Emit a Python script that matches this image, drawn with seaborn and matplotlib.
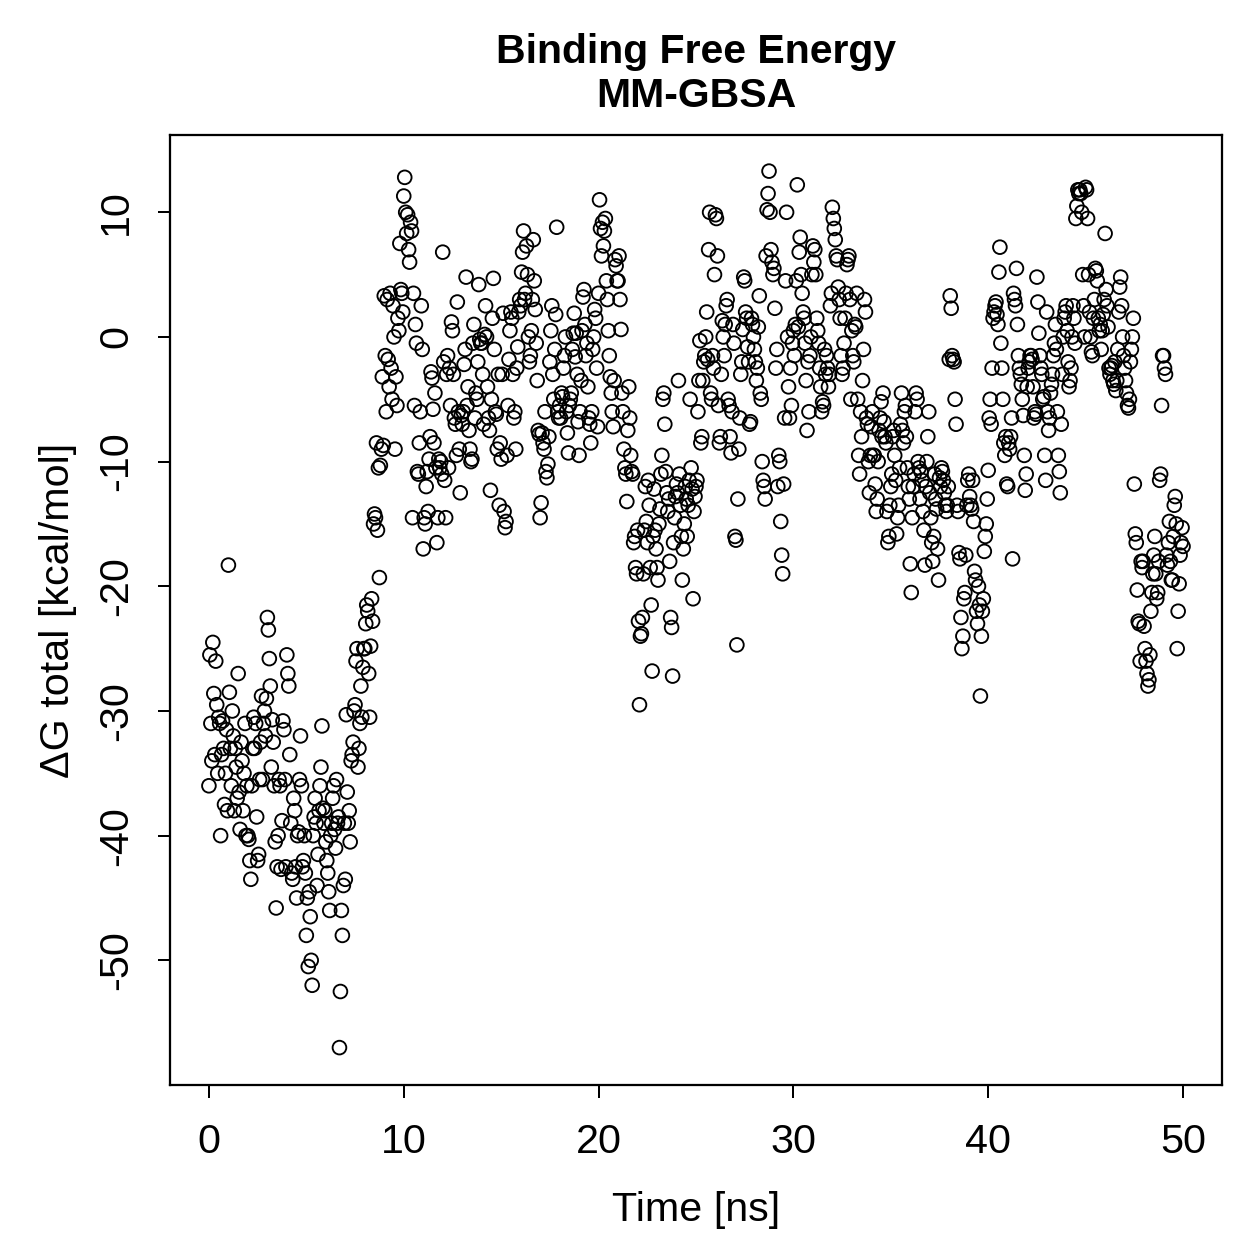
import numpy as np
import pandas as pd
import seaborn as sns
import matplotlib.pyplot as plt

# dG total (kcal/mol), one frame every 0.05 ns
dg_00_10 = [
    -36, -25.5, -31, -34, -24.5, -28.6, -33.5, -26, -29.5, -35, -30.5, -31, -40, -33.5, -30.8, -33, -37.5, -35, -31.5, -38,
    -18.3, -28.5, -33, -36, -30, -32, -38, -33, -34.5, -37, -27, -36.5, -39.5, -32.5, -34, -38, -35, -31, -40, -36,
    -40, -40.3, -42, -43.5, -36, -33, -30.5, -33, -31, -38.5, -42, -41.5, -35.5, -32.5, -28.8, -35.5, -31, -30, -32, -29,
    -22.5, -23.5, -25.8, -28, -34.5, -30.7, -32.5, -36, -40.5, -45.8, -42.5, -40, -35.5, -36, -42.7, -38.8, -30.8, -31.5, -35.5, -42.5,
    -25.5, -27, -28, -33.5, -39, -43, -43.5, -37, -38, -42.5, -45, -40, -39.7, -35.5, -32, -36, -42.5, -42, -40, -43,
    -48, -45, -50.5, -44.5, -46.5, -50, -52, -40, -38.5, -37, -39, -44, -41.5, -38, -36, -34.5, -31.2, -37.8, -39, -38,
    -40.5, -42, -43, -44.5, -46, -40, -39, -37, -36, -39.5, -41, -35.5, -39, -38.5, -57, -52.5, -46, -48, -44, -39,
    -43.5, -30.3, -36.5, -39, -38, -40.5, -34, -33.5, -32.5, -30, -29.5, -26, -25, -34.5, -33, -31, -28, -30.5, -26.5, -25,
    -25, -23, -21.5, -22, -27, -30.5, -24.8, -21, -22.8, -15, -14.2, -14.5, -8.5, -15.5, -10.5, -19.3, -10.3, -9, -3.2, -8.7,
    3.3, -1.5, -6, 3, -1.8, -4, 3.5, -2.5, -5, 2.5, 0, -9, -3.2, -5.5, 1.5, 0.5, 7.5, 3.8, 3.5, 2,
]
dg_10_20 = [
    11.3, 12.8, 10, 8.3, 9.8, 7, 6, 9.2, 8.5, -14.5, 3.5, -5.5, 1, -0.5, -10.8, -11, -8.5, -6, 2.5, -1,
    -17, -14.5, -15, -12, -10.8, -14, -9.8, -8, -2.8, -3.3, -5.8, -8.5, -4.5, -10.5, -16.5, -14.5, -9.8, -10.5, -10, -11,
    6.8, -2, -11.5, -14.5, -3, -1.5, -10.5, -2.5, -5.5, 1.2, 0.5, -3, -6.5, -7, -9.5, 2.8, -6, -9, -12.5, -6.3,
    -7, -6, -2.2, -1, 4.8, -5.5, -4, -7.5, -9, -10, -9.8, -0.5, 1, -6.5, -4.5, -5, -2, 4.2, -0.2, -0.5,
    -0.5, -3, -7, 0.2, 2.5, 0, -4, -6.5, -7.5, -12.3, -5, 1.5, 4.7, -1, -6, -6.2, -9, -3, -13.5, -8.5,
    -9.8, -3, 1.9, -14, -15.3, -14.8, -9.5, -5.5, -1.8, 0.5, 2, 1.5, -3, -6.5, -6, -9, -2.5, -0.8, 2, 3,
    2.5, 5.2, 6.8, 8.5, 3, 3.5, 7.3, 5, 0, -2, -1.5, 0.5, 3, 7.8, 4.5, 2.2, -0.5, -3.5, -7.5, -7.8,
    -14.5, -13.3, -7.7, -8.5, -9, -6, -10.8, -11.3, -10.2, -8, -2, 0.5, 2.5, -3, -5, -1, 1.8, 8.8, -6, -6.5,
    -5.5, -6.5, -4.5, -4.8, -2.5, -1.5, 0, -6, -7.7, -9.3, -5.5, -5, -4.5, -1, 0.3, 1.9, -1.6, 0.3, -3, -6.8,
    -9.5, -6, -3.5, 0.5, 3.2, 3.8, 1, -1.5, -0.5, -4, -6.5, -7, -8.5, -6, -1, 0, 2.2, 1.5, -2.5, -7.2,
]
dg_20_30 = [
    3.5, 11, 8.7, 6.5, 9.2, 7.3, 8.5, 9.5, 4.5, 3, 0.5, -1.5, -3.2, -4.5, -6, -7.2, -3.5, 6.2, 5.7, 4.5,
    4.5, 6.5, 3, 0.6, -4.5, -6, -9, -10.5, -11, -13.2, -7.5, -4, -6.5, -9.5, -10.8, -11, -16.5, -16, -18.5, -19,
    -15.5, -22.8, -29.5, -24, -23.8, -22.5, -19, -15.5, -12, -14.8, -16.5, -11.5, -13.5, -18.5, -21.5, -26.8, -16, -12.2, -15.5, -17,
    -18.5, -19.5, -15, -13.8, -11, -9.5, -5, -4.5, -7, -10.8, -12.5, -14, -13, -18, -22.5, -23.3, -27.2, -16.5, -14.5, -12.8,
    -11.8, -12.5, -3.5, -11, -13.5, -16, -19.5, -17, -15, -12, -13, -16, -13.5, -11.5, -5, -10.5, -12.2, -21, -14, -12.8,
    -12, -11.5, -6, -3.5, -0.3, -8.5, -8, -3.5, -2, -1.5, 0, 2, -1.8, 7, 10, -4.5, -5, -1.5, -2.5, 5,
    9.8, 9.5, 6.5, -5.5, -8.5, -8, -3, 1.3, 0, -1.5, 1, 2.5, 3, -5, -5.5, -8, -9.3, -6, 1, -0.5,
    -16, -16.3, -24.7, -13, -9, -6.5, -3, -2, 0.6, 4.8, 4.5, 2, 1.5, -0.8, -2, -7, -6.8, 1.5, 1, 0,
    -1, -2, -3.5, -2.5, 0.8, 3.3, -4.5, -5, -10, -11.5, -12, -13, 6.5, 10.2, 11.5, 13.3, 10, 7, 6, 5,
    5.5, 2.3, -2.5, -1, -12, -9.5, -10, -14.8, -17.5, -19, -11.8, -6.5, 4.5, 10, 0, -4, -6.5, -2.5, -5.5, -0.5,
]
dg_30_40 = [
    0.5, -1.5, 1, 4.5, 12.2, 0.8, 6.8, 8, 5, 3.5, 2, 1.5, -0.5, -3.5, -7.5, -2, -6, -1.5, 0, 5,
    7.3, 6, 7, 5, 1.5, 0.5, -0.5, -2.5, -4, -6, -5.2, -5.5, -1, -3, -1.5, -2.5, -4, -3, 2.5, 3.5,
    10.4, 9.5, 8.7, 7.8, 6.5, 6.2, 4, 3, 1.5, -1.5, -3, -2.5, -0.5, 1.5, 3.5, 5.8, 6.2, 6.5, 3, -5,
    0.5, -1.5, -2, 1, 0.8, 3.5, -5, -9.5, -11, -6, -8, -3.5, -1, 3, 2, -6.5, -7, -10, -12.5, -9.5,
    -7.2, -6, -9.5, -9.5, -11.8, -14, -13, -10, -7.5, -6.5, -5.2, -8, -4.5, -6.8, -8, -8.5, -14, -16.5, -16, -13.5,
    -12, -11, -8, -7.5, -9.5, -11.5, -15.8, -14.5, -13.5, -10.5, -7, -4.5, -7.5, -8.5, -6, -5.5, -8, -10.5, -12, -13,
    -18.2, -20.5, -14.5, -12, -11, -6, -4.5, -5, -10, -10.5, -13, -10.8, -11.5, -14, -15.5, -18.3, -12, -10, -8, -6,
    -12.5, -14.5, -16.5, -18, -16, -11, -13, -13.8, -17, -19.5, -11.3, -12, -10.5, -10.8, -11.5, -12.5, -13.5, -14, -13.5, -12,
    -1.8, 3.3, 2.3, -1.5, -1.8, -2, -5, -7, -13.5, -14, -17.3, -17.8, -22.5, -25, -24, -21, -20.5, -17.5, -13.5, -11.5,
    -11, -12.8, -13.5, -13.8, -11.5, -14.8, -18.8, -19.5, -22, -23, -20, -21.5, -28.8, -24, -22, -21, -17.2, -16, -15, -13,
]
dg_40_50 = [
    -10.7, -6.5, -5, -7, -2.5, 1.5, 2, 2.5, 2.8, 1.8, 1, 5.2, 7.2, -0.5, -2.5, -5, -8.5, -9.5, -8, -11.8,
    -12, -8.5, -9, -8, -6.5, -17.8, 3.5, 3, 2.5, 5.5, 1, -1.5, -2.5, -3, -3.8, -5, -6.3, -9.5, -12.3, -11,
    -4, -2.5, -2, -1.5, -1.5, -1.8, -4, -6.5, -6, -6.2, 4.8, 2.8, 0.3, -1.5, -2.5, -3, -5, -4.8, -9.5, -11.5,
    2, -6, -7.5, -6.5, -4.5, -3.8, -3, -1.5, -0.5, 1, -1, -6, -9.5, -10.8, -12.5, -7, -3, 0, 1.5, 2,
    2.5, 0.5, -2, -4, -3.5, -2.5, 0, 2.5, 1.5, -0.5, 9.5, 10.5, 11.8, 11.5, 11.8, 11.5, 10, 5, 2.5, 0,
    12, 11.8, 9.5, 5, 2, 0, -1.2, -1.5, 1.5, 3, 5.5, 5.3, 4.5, 1.5, 0.5, 1, -1, 0.5, 1.8, 3,
    8.3, 3.8, 2.5, 0.8, -2.5, -3, -2.5, -2.3, -3.5, -3.8, -2, -4.3, -3.5, -1, 2, 4, 4.8, 2.5, 0, -1.5,
    -2.5, -3.5, -4.5, -5.5, -5.7, -5, -2, -1, 0, 1.5, -11.8, -15.8, -16.5, -20.3, -22.8, -23, -26, -18, -18.5, -18,
    -23.2, -25, -26, -27, -28, -27.5, -25.5, -22, -20.5, -19, -17.5, -16, -19, -21, -20.5, -18, -11.5, -11, -5.5, -1.5,
    -1.5, -2.5, -3, -17.5, -18.3, -16.5, -14.8, -18, -19.5, -19.5, -16, -13.5, -12.8, -15, -25, -22, -19.8, -17.5, -16.5, -15.3,
    -16.8,
]

dg = np.array(dg_00_10 + dg_10_20 + dg_20_30 + dg_30_40 + dg_40_50)
time_ns = np.round(np.arange(len(dg)) * 0.05, 2)
df = pd.DataFrame({"time": time_ns, "dG": dg})

sns.set_style("ticks")
plt.rcParams["font.family"] = ["Liberation Sans", "DejaVu Sans"]
plt.rcParams["axes.unicode_minus"] = False
plt.rcParams["text.color"] = "black"
plt.rcParams["axes.labelcolor"] = "black"
plt.rcParams["xtick.color"] = "black"
plt.rcParams["ytick.color"] = "black"

fig = plt.figure(figsize=(1259 / 180, 1259 / 180), dpi=180)
ax = fig.add_axes([0.135, 0.1382, 0.8356, 0.7546])

sns.scatterplot(data=df, x="time", y="dG", ax=ax, marker="o", s=30,
                facecolor="none", edgecolor="black", linewidth=0.75)

ax.set_xlim(-2, 52)
ax.set_ylim(-60.0, 16.2)
ax.set_xticks([0, 10, 20, 30, 40, 50])
ax.set_yticks([-50, -40, -30, -20, -10, 0, 10])
for lab in ax.get_yticklabels():
    lab.set_rotation(90)
    lab.set_va("center")
ax.tick_params(axis="both", direction="out", length=5, width=0.8,
               labelsize=16.5, colors="black")
ax.tick_params(axis="x", pad=10)
ax.tick_params(axis="y", pad=9)

for sp in ax.spines.values():
    sp.set_visible(True)
    sp.set_linewidth(0.9)
    sp.set_color("black")

ax.set_xlabel("Time [ns]", fontsize=16.5, labelpad=12)
ax.set_ylabel("ΔG total [kcal/mol]", fontsize=16.5, labelpad=8)
ax.set_title("Binding Free Energy\nMM-GBSA", fontsize=16.4, fontweight="bold",
             pad=11, linespacing=1.2, color="black")

fig.savefig("out.png", dpi=180)
